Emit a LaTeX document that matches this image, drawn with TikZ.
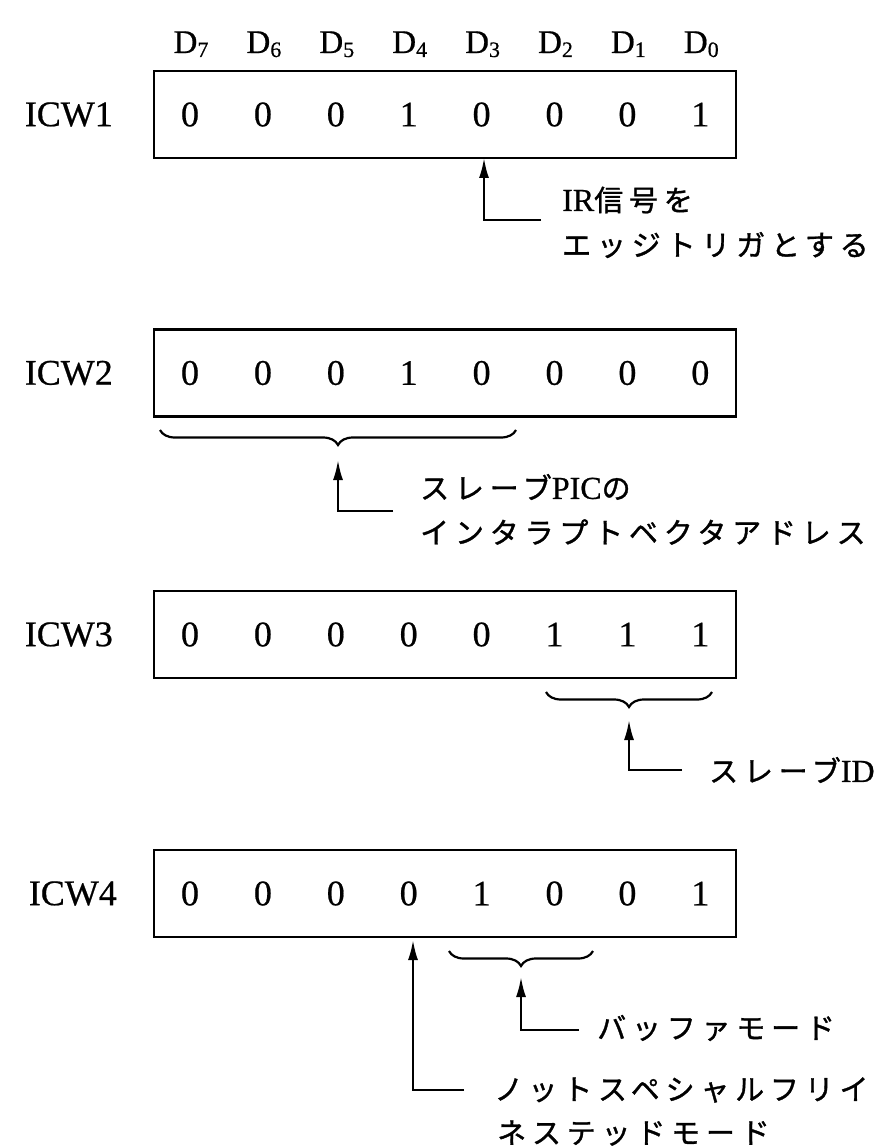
\documentclass[tikz,border=0pt]{standalone}
\usepackage{fontspec}
\setmainfont{Liberation Serif}[FakeBold=0.6]
\newfontfamily\jpfont{Noto Sans CJK JP}[LetterSpace=20,FakeBold=1.2]
\newcommand\latpart[1]{{\rmfamily\fontsize{32}{32}\selectfont #1}}
\usetikzlibrary{arrows.meta,decorations.pathreplacing}
\tikzset{
  wordbox/.style={draw, line width=2.8pt, minimum width=582pt, minimum height=87pt, inner sep=0pt},
  bit/.style={font=\fontsize{36}{36}\selectfont, inner sep=0pt},
  icw/.style={font=\fontsize{36}{36}\selectfont, anchor=east, inner sep=0pt},
  dlab/.style={font=\fontsize{33}{33}\selectfont, inner sep=0pt, anchor=base},
  note/.style={font=\jpfont\fontsize{29}{29}\selectfont, anchor=west, inner sep=0pt},
  pointer/.style={line width=2.2pt, -{Latex[length=20pt,width=10pt]}},
  bracket/.style={line width=2.2pt, decorate, decoration={brace, mirror, amplitude=15pt}},
}
\begin{document}
\begin{tikzpicture}[x=1pt,y=-1pt]
\useasboundingbox (0,0) rectangle (894,1147);
% bit labels
\foreach \d [count=\i from 0] in {7,6,5,4,3,2,1,0}
  \node[dlab] (d\d) at (191+72.9*\i,53) {D\raisebox{-4pt}{\fontsize{22}{22}\selectfont\d}};
% word boxes
\node[wordbox] (w1) at (445,114.5) {};
\node[wordbox] (w2) at (445,373) {};
\node[wordbox] (w3) at (445,634.5) {};
\node[wordbox] (w4) at (445,893.5) {};
\node[icw] (l1) at (113,114.5) {ICW1};
\node[icw] (l2) at (113,373) {ICW2};
\node[icw] (l3) at (113,634.5) {ICW3};
\node[icw] (l4) at (117,893.5) {ICW4};
\foreach \v [count=\i from 0] in {0,0,0,1,0,0,0,1}
  \node[bit] (a\i) at (190+72.9*\i,114.5) {\v};
\foreach \v [count=\i from 0] in {0,0,0,1,0,0,0,0}
  \node[bit] (b\i) at (190+72.9*\i,373) {\v};
\foreach \v [count=\i from 0] in {0,0,0,0,0,1,1,1}
  \node[bit] (c\i) at (190+72.9*\i,634.5) {\v};
\foreach \v [count=\i from 0] in {0,0,0,0,1,0,0,1}
  \node[bit] (e\i) at (190+72.9*\i,893.5) {\v};
% ICW1 note
\coordinate (t1) at (484,158);
\coordinate (k1) at (484,220);
\coordinate (s1) at (541,220);
\draw[pointer] (s1) -- (k1) -- (t1);
\node[note] (n1a) at (562,200) {\latpart{IR}信号を};
\node[note] (n1b) at (562,245) {エッジトリガとする};
% ICW2 note
\coordinate (bl2) at (160,430);
\coordinate (br2) at (516,430);
\draw[bracket] (bl2) -- (br2);
\coordinate (t2) at (338,460);
\coordinate (k2) at (338,511);
\coordinate (s2) at (393,511);
\draw[pointer] (s2) -- (k2) -- (t2);
\node[note] (n2a) at (420,487) {スレーブ\latpart{PIC}の};
\node[note] (n2b) at (420,532) {インタラプトベクタアドレス};
% ICW3 note
\coordinate (bl3) at (546,692);
\coordinate (br3) at (712,692);
\draw[bracket] (bl3) -- (br3);
\coordinate (t3) at (629,720);
\coordinate (k3) at (629,770);
\coordinate (s3) at (682,770);
\draw[pointer] (s3) -- (k3) -- (t3);
\node[note] (n3) at (709,770) {スレーブ\latpart{ID}};
% ICW4 notes
\coordinate (bl4) at (449,951);
\coordinate (br4) at (593,951);
\draw[bracket] (bl4) -- (br4);
\coordinate (t4) at (521,977);
\coordinate (k4) at (521,1030);
\coordinate (s4) at (579,1030);
\draw[pointer] (s4) -- (k4) -- (t4);
\node[note] (n4a) at (597,1028) {バッファモード};
\coordinate (t5) at (413,940);
\coordinate (k5) at (413,1090);
\coordinate (s5) at (464,1090);
\draw[pointer] (s5) -- (k5) -- (t5);
\node[note] (n4b) at (494,1090) {ノットスペシャルフリイ};
\node[note] (n4c) at (497,1133) {ネステッドモード};
\end{tikzpicture}
\end{document}
